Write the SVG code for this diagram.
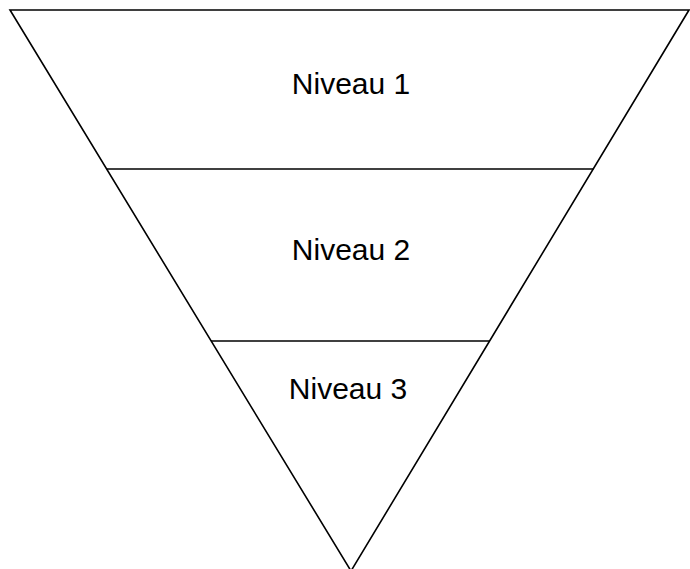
<svg xmlns="http://www.w3.org/2000/svg" width="690" height="569" viewBox="0 0 690 569">
<style>
.ln{fill:none;stroke:#000;stroke-width:1.6}
.t{font-family:"Liberation Sans",Arial,sans-serif;font-size:30px;fill:#000;text-anchor:middle}
</style>
<rect width="690" height="569" fill="#fff"/>
<g id="funnel">
<polygon class="ln" points="10,10 689,10 351,571"/>
</g>
<g id="connectors">
<line class="ln" x1="106.5" y1="169" x2="593.5" y2="169"/>
<line class="ln" x1="211" y1="341" x2="489.5" y2="341"/>
</g>
<g id="level1"><text class="t" x="351" y="94">Niveau 1</text></g>
<g id="level2"><text class="t" x="351" y="260">Niveau 2</text></g>
<g id="level3"><text class="t" x="348" y="399">Niveau 3</text></g>
</svg>
